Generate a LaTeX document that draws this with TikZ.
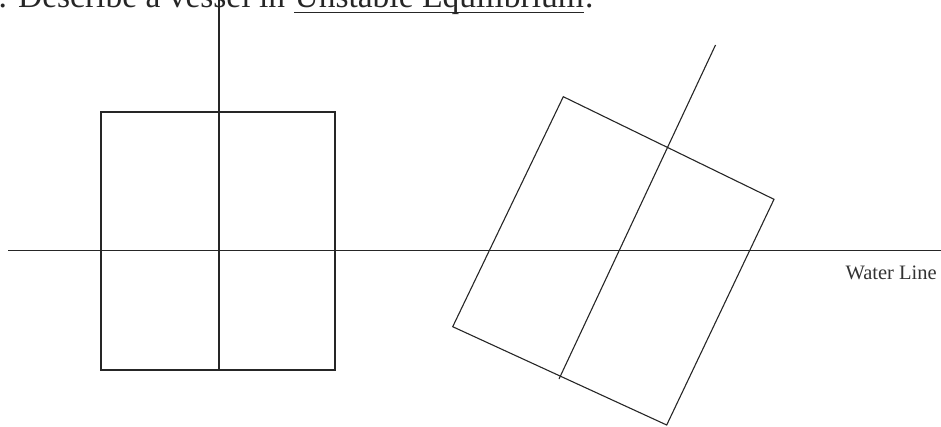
\documentclass[tikz,border=0pt]{standalone}
\usepackage{fontspec}
\setmainfont{Liberation Serif}
\begin{document}
\begin{tikzpicture}[x=1pt,y=-1pt,line width=1.1pt,
  hull/.style={draw=black!85},
  lbl/.style={inner sep=0pt,anchor=base west},
  ttl/.style={lbl,font=\fontsize{33.5}{36}\selectfont,text=black!85}]
\useasboundingbox (0,0) rectangle (941,426);
\clip (0,0) rectangle (941,426);
% title (cut off at top)
\node[ttl] (t1) at (-2,7.5) {. Describe a vessel in};
\node[ttl] (t2) at ([xshift=8.4pt]t1.base east) {Unstable Equilibrium};
\node[ttl] (t3) at (t2.base east) {.};
\draw[line width=1.5pt,draw=black!85] ([yshift=-5pt]t2.base west) -- ([yshift=-5pt]t2.base east);
% water line
\coordinate (wl0) at (8,250.5);
\coordinate (wl1) at (941,250.5);
\draw[hull] (wl0) -- (wl1);
\node[lbl,font=\fontsize{20.5}{24}\selectfont,text=black!80] (wlt) at (845,279) {Water Line};
% upright vessel
\coordinate (a1) at (101,112);
\coordinate (a2) at (335,370);
\draw[hull] (a1) rectangle (a2);
\coordinate (m0) at (219,-5);
\coordinate (m1) at (219,370);
\draw[hull] (m0) -- (m1);
% heeled vessel
\coordinate (t) at (563.3,96.7);
\coordinate (r) at (774,199.3);
\coordinate (b) at (666.7,425);
\coordinate (l) at (452.7,326.7);
\draw[hull] (t) -- (r) -- (b) -- (l) -- cycle;
\coordinate (c0) at (559,379);
\coordinate (c1) at (715.5,45);
\draw[hull] (c0) -- (c1);
\end{tikzpicture}
\end{document}
